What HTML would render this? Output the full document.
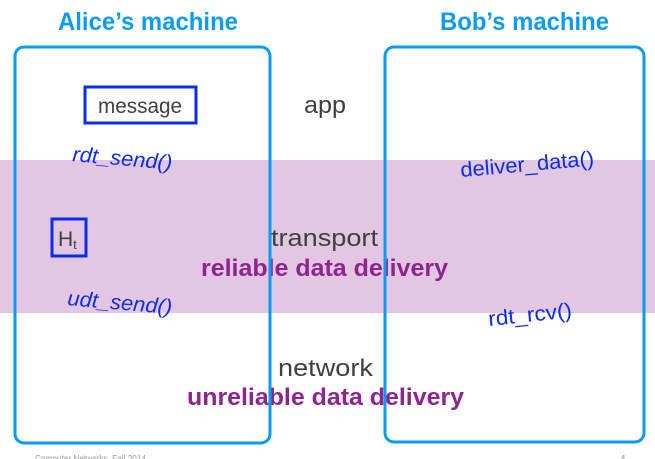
<!DOCTYPE html>
<html><head><meta charset="utf-8"><style>
html,body{margin:0;padding:0;background:#fff}
svg{display:block}
text{font-family:"Liberation Sans",sans-serif}
</style></head><body>
<svg width="655" height="459" viewBox="0 0 655 459" xmlns="http://www.w3.org/2000/svg">
<rect x="0" y="160" width="655" height="153" fill="#e2c6e2"/>
<text x="58" y="30" font-size="25" font-weight="bold" fill="#0a9bf5" textLength="180" lengthAdjust="spacingAndGlyphs">Alice’s machine</text>
<text x="440" y="30" font-size="25" font-weight="bold" fill="#0a9bf5" textLength="169" lengthAdjust="spacingAndGlyphs">Bob’s machine</text>
<rect x="85" y="87" width="111" height="36" fill="none" stroke="#0a2cf0" stroke-width="3"/>
<text x="98" y="113" font-size="21" fill="#404040" textLength="84" lengthAdjust="spacingAndGlyphs">message</text>
<text x="304" y="113" font-size="24" fill="#404040" textLength="42" lengthAdjust="spacingAndGlyphs">app</text>
<rect x="52" y="219" width="34" height="37" fill="none" stroke="#0a2cf0" stroke-width="3"/>
<text x="58" y="246" font-size="21" fill="#404040">H<tspan font-size="13" dy="3">t</tspan></text>
<text x="271" y="246" font-size="24" fill="#404040" textLength="107" lengthAdjust="spacingAndGlyphs">transport</text>
<text x="201" y="276" font-size="24" font-weight="bold" fill="#8e2490" textLength="247" lengthAdjust="spacingAndGlyphs">reliable data delivery</text>
<text x="278" y="376" font-size="24" fill="#404040" textLength="95" lengthAdjust="spacingAndGlyphs">network</text>
<text x="187" y="405" font-size="24" font-weight="bold" fill="#8e2490" textLength="277" lengthAdjust="spacingAndGlyphs">unreliable data delivery</text>
<text x="72" y="161" font-size="21" font-style="italic" fill="#0a2cf0" textLength="100" lengthAdjust="spacingAndGlyphs" transform="rotate(5 72 161)">rdt_send()</text>
<text x="67" y="305" font-size="21" font-style="italic" fill="#0a2cf0" textLength="105" lengthAdjust="spacingAndGlyphs" transform="rotate(5 67 305)">udt_send()</text>
<text x="461" y="177" font-size="21" fill="#0a2cf0" textLength="134" lengthAdjust="spacingAndGlyphs" transform="rotate(-5 461 177)">deliver_data()</text>
<text x="489" y="326" font-size="21" fill="#0a2cf0" textLength="84" lengthAdjust="spacingAndGlyphs" transform="rotate(-6 489 326)">rdt_rcv()</text>
<rect x="15" y="47" width="255" height="396" rx="9" fill="none" stroke="#0a9bf5" stroke-width="3"/>
<rect x="385" y="47" width="259" height="395" rx="9" fill="none" stroke="#0a9bf5" stroke-width="3"/>
<text x="35" y="462" font-size="10" fill="#999" textLength="111" lengthAdjust="spacingAndGlyphs">Computer Networks, Fall 2014</text>
<text x="620" y="462" font-size="10" fill="#999">4</text>
</svg>
</body></html>
